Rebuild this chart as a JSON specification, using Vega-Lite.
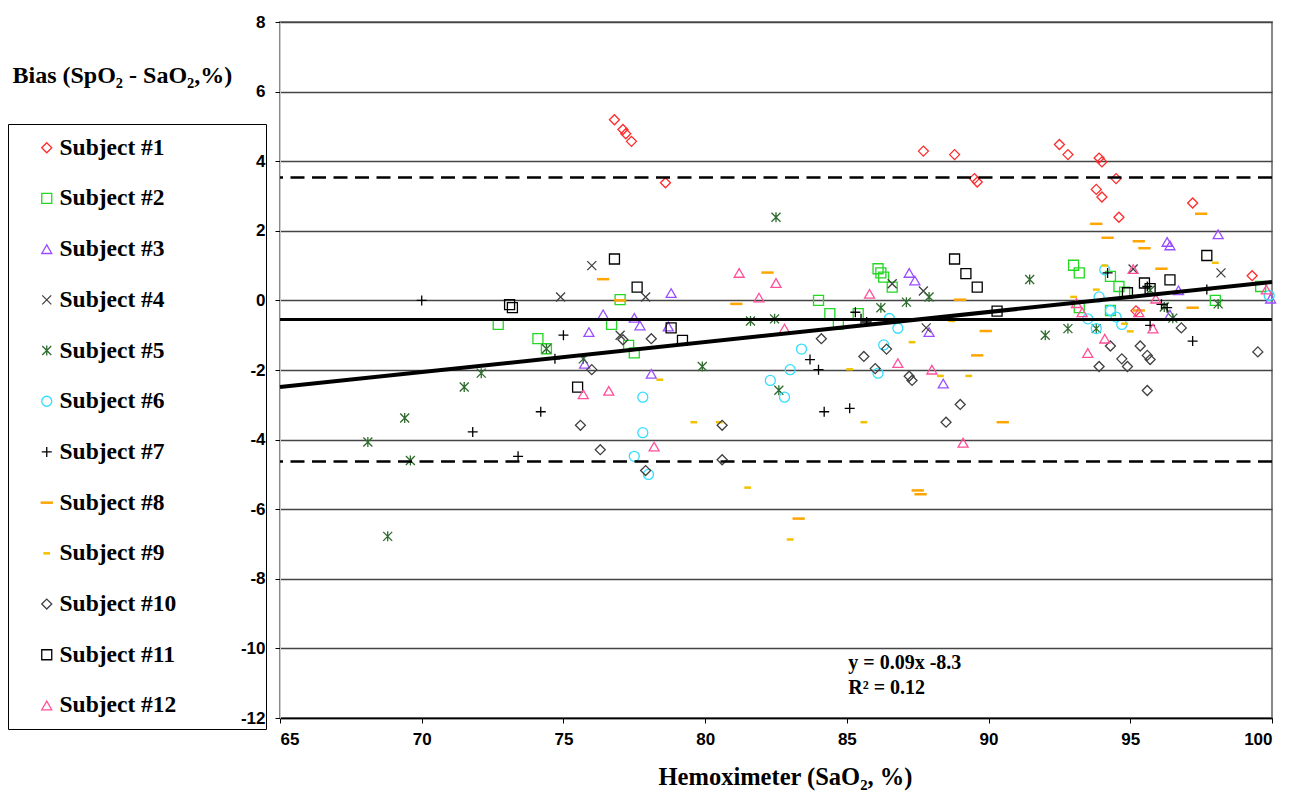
{
  "$schema": "https://vega.github.io/schema/vega-lite/v6.json",
  "autosize": {"type": "none"},
  "padding": {"left": 280, "top": 22, "right": 33, "bottom": 75},
  "width": 992,
  "height": 696,
  "background": "white",
  "config": {"view": {"stroke": "#888", "strokeWidth": 2}, "font": "Liberation Serif"},
  "datasets": {
    "pts": [
      {"subject":"Subject #1","sao2":76.8,"bias":5.19},{"subject":"Subject #1","sao2":77.1,"bias":4.91},{"subject":"Subject #1","sao2":77.2,"bias":4.79},{"subject":"Subject #1","sao2":77.4,"bias":4.57},{"subject":"Subject #1","sao2":78.6,"bias":3.38},{"subject":"Subject #1","sao2":87.7,"bias":4.29},{"subject":"Subject #1","sao2":88.8,"bias":4.19},{"subject":"Subject #1","sao2":89.5,"bias":3.5},{"subject":"Subject #1","sao2":89.6,"bias":3.4},{"subject":"Subject #1","sao2":92.5,"bias":4.48},{"subject":"Subject #1","sao2":92.8,"bias":4.19},{"subject":"Subject #1","sao2":93.9,"bias":4.09},{"subject":"Subject #1","sao2":94.0,"bias":3.98},{"subject":"Subject #1","sao2":94.5,"bias":3.5},{"subject":"Subject #1","sao2":93.8,"bias":3.19},{"subject":"Subject #1","sao2":94.0,"bias":2.97},{"subject":"Subject #1","sao2":94.6,"bias":2.39},{"subject":"Subject #1","sao2":97.2,"bias":2.8},{"subject":"Subject #1","sao2":99.3,"bias":0.71},{"subject":"Subject #1","sao2":95.2,"bias":-0.3},
      {"subject":"Subject #2","sao2":72.7,"bias":-0.69},{"subject":"Subject #2","sao2":74.1,"bias":-1.1},{"subject":"Subject #2","sao2":74.4,"bias":-1.39},{"subject":"Subject #2","sao2":77.0,"bias":0.02},{"subject":"Subject #2","sao2":76.7,"bias":-0.69},{"subject":"Subject #2","sao2":77.3,"bias":-1.29},{"subject":"Subject #2","sao2":77.5,"bias":-1.51},{"subject":"Subject #2","sao2":84.0,"bias":0.0},{"subject":"Subject #2","sao2":84.4,"bias":-0.38},{"subject":"Subject #2","sao2":84.7,"bias":-0.69},{"subject":"Subject #2","sao2":85.4,"bias":-0.38},{"subject":"Subject #2","sao2":86.1,"bias":0.91},{"subject":"Subject #2","sao2":86.2,"bias":0.79},{"subject":"Subject #2","sao2":86.3,"bias":0.67},{"subject":"Subject #2","sao2":86.6,"bias":0.38},{"subject":"Subject #2","sao2":93.0,"bias":1.01},{"subject":"Subject #2","sao2":93.2,"bias":0.79},{"subject":"Subject #2","sao2":94.3,"bias":0.69},{"subject":"Subject #2","sao2":94.6,"bias":0.4},{"subject":"Subject #2","sao2":94.8,"bias":0.24},{"subject":"Subject #2","sao2":98.0,"bias":0.0},{"subject":"Subject #2","sao2":94.3,"bias":-0.29},{"subject":"Subject #2","sao2":93.2,"bias":-0.21},{"subject":"Subject #2","sao2":99.6,"bias":0.4},
      {"subject":"Subject #3","sao2":78.8,"bias":0.21},{"subject":"Subject #3","sao2":76.4,"bias":-0.4},{"subject":"Subject #3","sao2":77.5,"bias":-0.5},{"subject":"Subject #3","sao2":77.7,"bias":-0.72},{"subject":"Subject #3","sao2":78.7,"bias":-0.75},{"subject":"Subject #3","sao2":75.9,"bias":-0.91},{"subject":"Subject #3","sao2":75.75,"bias":-1.82},{"subject":"Subject #3","sao2":78.1,"bias":-2.11},{"subject":"Subject #3","sao2":87.2,"bias":0.79},{"subject":"Subject #3","sao2":87.4,"bias":0.57},{"subject":"Subject #3","sao2":87.9,"bias":-0.91},{"subject":"Subject #3","sao2":88.4,"bias":-2.39},{"subject":"Subject #3","sao2":96.3,"bias":1.68},{"subject":"Subject #3","sao2":96.4,"bias":1.58},{"subject":"Subject #3","sao2":98.1,"bias":1.9},{"subject":"Subject #3","sao2":96.7,"bias":0.29},{"subject":"Subject #3","sao2":96.4,"bias":-0.41},{"subject":"Subject #3","sao2":99.95,"bias":0.05},
      {"subject":"Subject #4","sao2":76.0,"bias":1.0},{"subject":"Subject #4","sao2":74.9,"bias":0.1},{"subject":"Subject #4","sao2":77.9,"bias":0.1},{"subject":"Subject #4","sao2":77.0,"bias":-1.0},{"subject":"Subject #4","sao2":86.6,"bias":0.48},{"subject":"Subject #4","sao2":87.7,"bias":0.27},{"subject":"Subject #4","sao2":87.8,"bias":-0.79},{"subject":"Subject #4","sao2":98.2,"bias":0.79},{"subject":"Subject #4","sao2":95.1,"bias":0.9},
      {"subject":"Subject #5","sao2":72.1,"bias":-2.09},{"subject":"Subject #5","sao2":71.5,"bias":-2.49},{"subject":"Subject #5","sao2":74.4,"bias":-1.39},{"subject":"Subject #5","sao2":75.7,"bias":-1.68},{"subject":"Subject #5","sao2":79.9,"bias":-1.9},{"subject":"Subject #5","sao2":81.6,"bias":-0.59},{"subject":"Subject #5","sao2":82.45,"bias":-0.53},{"subject":"Subject #5","sao2":82.5,"bias":2.39},{"subject":"Subject #5","sao2":82.6,"bias":-2.58},{"subject":"Subject #5","sao2":86.2,"bias":-0.21},{"subject":"Subject #5","sao2":87.1,"bias":-0.05},{"subject":"Subject #5","sao2":87.9,"bias":0.1},{"subject":"Subject #5","sao2":91.45,"bias":0.6},{"subject":"Subject #5","sao2":92.0,"bias":-1.0},{"subject":"Subject #5","sao2":92.8,"bias":-0.81},{"subject":"Subject #5","sao2":93.8,"bias":-0.81},{"subject":"Subject #5","sao2":96.2,"bias":-0.19},{"subject":"Subject #5","sao2":96.5,"bias":-0.51},{"subject":"Subject #5","sao2":98.1,"bias":-0.1},{"subject":"Subject #5","sao2":95.7,"bias":0.29},{"subject":"Subject #5","sao2":69.4,"bias":-3.38},{"subject":"Subject #5","sao2":68.1,"bias":-4.07},{"subject":"Subject #5","sao2":69.6,"bias":-4.6},{"subject":"Subject #5","sao2":68.8,"bias":-6.78},
      {"subject":"Subject #6","sao2":77.8,"bias":-2.78},{"subject":"Subject #6","sao2":82.3,"bias":-2.3},{"subject":"Subject #6","sao2":86.5,"bias":-0.52},{"subject":"Subject #6","sao2":86.8,"bias":-0.8},{"subject":"Subject #6","sao2":83.4,"bias":-1.4},{"subject":"Subject #6","sao2":86.3,"bias":-1.28},{"subject":"Subject #6","sao2":83.0,"bias":-1.99},{"subject":"Subject #6","sao2":86.1,"bias":-2.09},{"subject":"Subject #6","sao2":82.8,"bias":-2.78},{"subject":"Subject #6","sao2":94.1,"bias":0.88},{"subject":"Subject #6","sao2":93.9,"bias":0.1},{"subject":"Subject #6","sao2":94.3,"bias":-0.29},{"subject":"Subject #6","sao2":94.5,"bias":-0.48},{"subject":"Subject #6","sao2":94.7,"bias":-0.69},{"subject":"Subject #6","sao2":93.5,"bias":-0.53},{"subject":"Subject #6","sao2":93.8,"bias":-0.81},{"subject":"Subject #6","sao2":99.9,"bias":0.14},{"subject":"Subject #6","sao2":77.8,"bias":-3.8},{"subject":"Subject #6","sao2":77.5,"bias":-4.48},{"subject":"Subject #6","sao2":78.0,"bias":-5.0},
      {"subject":"Subject #7","sao2":70.0,"bias":0.0},{"subject":"Subject #7","sao2":75.0,"bias":-1.0},{"subject":"Subject #7","sao2":74.7,"bias":-1.68},{"subject":"Subject #7","sao2":74.2,"bias":-3.2},{"subject":"Subject #7","sao2":85.3,"bias":-0.34},{"subject":"Subject #7","sao2":85.5,"bias":-0.53},{"subject":"Subject #7","sao2":85.7,"bias":-0.62},{"subject":"Subject #7","sao2":83.7,"bias":-1.7},{"subject":"Subject #7","sao2":84.0,"bias":-1.99},{"subject":"Subject #7","sao2":84.2,"bias":-3.2},{"subject":"Subject #7","sao2":85.1,"bias":-3.1},{"subject":"Subject #7","sao2":94.2,"bias":0.79},{"subject":"Subject #7","sao2":95.6,"bias":0.4},{"subject":"Subject #7","sao2":97.7,"bias":0.31},{"subject":"Subject #7","sao2":96.1,"bias":-0.11},{"subject":"Subject #7","sao2":96.3,"bias":-0.21},{"subject":"Subject #7","sao2":95.7,"bias":-0.72},{"subject":"Subject #7","sao2":97.2,"bias":-1.17},{"subject":"Subject #7","sao2":71.8,"bias":-3.78},{"subject":"Subject #7","sao2":73.4,"bias":-4.48},
      {"subject":"Subject #8","sao2":76.4,"bias":0.61},{"subject":"Subject #8","sao2":77.0,"bias":0.0},{"subject":"Subject #8","sao2":82.2,"bias":0.8},{"subject":"Subject #8","sao2":81.1,"bias":-0.1},{"subject":"Subject #8","sao2":89.0,"bias":0.02},{"subject":"Subject #8","sao2":89.9,"bias":-0.88},{"subject":"Subject #8","sao2":89.6,"bias":-1.58},{"subject":"Subject #8","sao2":93.8,"bias":2.2},{"subject":"Subject #8","sao2":94.2,"bias":1.8},{"subject":"Subject #8","sao2":95.3,"bias":1.7},{"subject":"Subject #8","sao2":95.5,"bias":1.5},{"subject":"Subject #8","sao2":97.5,"bias":2.49},{"subject":"Subject #8","sao2":96.1,"bias":0.91},{"subject":"Subject #8","sao2":97.2,"bias":-0.21},{"subject":"Subject #8","sao2":95.3,"bias":-0.29},{"subject":"Subject #8","sao2":90.5,"bias":-3.5},{"subject":"Subject #8","sao2":87.5,"bias":-5.46},{"subject":"Subject #8","sao2":87.6,"bias":-5.57},{"subject":"Subject #8","sao2":83.3,"bias":-6.27},
      {"subject":"Subject #9","sao2":78.4,"bias":-2.28},{"subject":"Subject #9","sao2":88.7,"bias":-0.59},{"subject":"Subject #9","sao2":87.3,"bias":-1.2},{"subject":"Subject #9","sao2":85.1,"bias":-1.98},{"subject":"Subject #9","sao2":88.3,"bias":-2.17},{"subject":"Subject #9","sao2":89.3,"bias":-2.17},{"subject":"Subject #9","sao2":94.1,"bias":1.0},{"subject":"Subject #9","sao2":93.8,"bias":0.31},{"subject":"Subject #9","sao2":93.0,"bias":0.1},{"subject":"Subject #9","sao2":94.8,"bias":-0.67},{"subject":"Subject #9","sao2":95.0,"bias":-0.89},{"subject":"Subject #9","sao2":99.6,"bias":0.5},{"subject":"Subject #9","sao2":98.0,"bias":1.08},{"subject":"Subject #9","sao2":79.6,"bias":-3.5},{"subject":"Subject #9","sao2":80.5,"bias":-3.5},{"subject":"Subject #9","sao2":81.5,"bias":-5.38},{"subject":"Subject #9","sao2":85.6,"bias":-3.5},{"subject":"Subject #9","sao2":83.0,"bias":-6.87},
      {"subject":"Subject #10","sao2":77.1,"bias":-1.13},{"subject":"Subject #10","sao2":78.1,"bias":-1.1},{"subject":"Subject #10","sao2":76.0,"bias":-1.99},{"subject":"Subject #10","sao2":84.1,"bias":-1.1},{"subject":"Subject #10","sao2":85.6,"bias":-1.61},{"subject":"Subject #10","sao2":86.4,"bias":-1.4},{"subject":"Subject #10","sao2":86.0,"bias":-1.96},{"subject":"Subject #10","sao2":87.2,"bias":-2.18},{"subject":"Subject #10","sao2":87.3,"bias":-2.3},{"subject":"Subject #10","sao2":89.0,"bias":-2.99},{"subject":"Subject #10","sao2":96.8,"bias":-0.79},{"subject":"Subject #10","sao2":94.3,"bias":-1.31},{"subject":"Subject #10","sao2":95.35,"bias":-1.31},{"subject":"Subject #10","sao2":93.9,"bias":-1.9},{"subject":"Subject #10","sao2":94.7,"bias":-1.68},{"subject":"Subject #10","sao2":94.9,"bias":-1.9},{"subject":"Subject #10","sao2":95.6,"bias":-1.58},{"subject":"Subject #10","sao2":95.7,"bias":-1.7},{"subject":"Subject #10","sao2":99.5,"bias":-1.48},{"subject":"Subject #10","sao2":95.6,"bias":-2.59},{"subject":"Subject #10","sao2":75.6,"bias":-3.59},{"subject":"Subject #10","sao2":76.3,"bias":-4.29},{"subject":"Subject #10","sao2":80.6,"bias":-3.59},{"subject":"Subject #10","sao2":80.6,"bias":-4.58},{"subject":"Subject #10","sao2":77.9,"bias":-4.89},{"subject":"Subject #10","sao2":88.5,"bias":-3.5},
      {"subject":"Subject #11","sao2":73.1,"bias":-0.12},{"subject":"Subject #11","sao2":73.2,"bias":-0.21},{"subject":"Subject #11","sao2":76.8,"bias":1.19},{"subject":"Subject #11","sao2":77.6,"bias":0.38},{"subject":"Subject #11","sao2":78.8,"bias":-0.79},{"subject":"Subject #11","sao2":79.2,"bias":-1.15},{"subject":"Subject #11","sao2":75.5,"bias":-2.49},{"subject":"Subject #11","sao2":88.8,"bias":1.19},{"subject":"Subject #11","sao2":89.2,"bias":0.77},{"subject":"Subject #11","sao2":89.6,"bias":0.38},{"subject":"Subject #11","sao2":90.3,"bias":-0.31},{"subject":"Subject #11","sao2":97.7,"bias":1.29},{"subject":"Subject #11","sao2":96.4,"bias":0.59},{"subject":"Subject #11","sao2":95.5,"bias":0.5},{"subject":"Subject #11","sao2":95.7,"bias":0.34},{"subject":"Subject #11","sao2":94.9,"bias":0.22},
      {"subject":"Subject #12","sao2":81.2,"bias":0.79},{"subject":"Subject #12","sao2":82.5,"bias":0.5},{"subject":"Subject #12","sao2":81.9,"bias":0.08},{"subject":"Subject #12","sao2":75.7,"bias":-2.7},{"subject":"Subject #12","sao2":76.6,"bias":-2.6},{"subject":"Subject #12","sao2":85.8,"bias":0.19},{"subject":"Subject #12","sao2":82.8,"bias":-0.81},{"subject":"Subject #12","sao2":86.8,"bias":-1.8},{"subject":"Subject #12","sao2":88.0,"bias":-1.99},{"subject":"Subject #12","sao2":93.1,"bias":-0.08},{"subject":"Subject #12","sao2":93.3,"bias":-0.34},{"subject":"Subject #12","sao2":95.3,"bias":-0.34},{"subject":"Subject #12","sao2":95.9,"bias":0.05},{"subject":"Subject #12","sao2":95.8,"bias":-0.81},{"subject":"Subject #12","sao2":94.1,"bias":-1.1},{"subject":"Subject #12","sao2":93.5,"bias":-1.51},{"subject":"Subject #12","sao2":99.8,"bias":0.31},{"subject":"Subject #12","sao2":78.2,"bias":-4.2},{"subject":"Subject #12","sao2":89.1,"bias":-4.09},{"subject":"Subject #12","sao2":95.1,"bias":0.9}
    ],
    "limits": [{"bias": 3.53}, {"bias": -4.63}],
    "mean": [{"bias": -0.55}],
    "fit": [{"sao2": 65, "bias": -2.49}, {"sao2": 100, "bias": 0.53}],
    "notes": [{"sao2": 85.05, "bias": -10.43, "label": "y = 0.09x  -8.3"}, {"sao2": 85.05, "bias": -11.15, "label": "R² = 0.12"}]
  },
  "layer": [
    {
      "data": {"name": "pts"},
      "mark": {"type": "point", "filled": false, "size": 100, "strokeWidth": 1.3, "opacity": 1},
      "encoding": {
        "x": {"field": "sao2", "type": "quantitative", "title": "Hemoximeter (SaO₂, %)",
          "scale": {"domain": [65, 100], "nice": false, "zero": false},
          "axis": {"values": [65, 70, 75, 80, 85, 90, 95, 100], "grid": false, "tickSize": 5, "tickColor": "#000", "domainColor": "#000", "domainWidth": 1.5,
            "labelFont": "Liberation Sans", "labelFontSize": 17, "labelFontWeight": "bold", "labelColor": "#000", "labelPadding": 8,
            "titleFont": "Liberation Serif", "titleFontSize": 24.5, "titleFontWeight": "bold", "titleColor": "#000",
            "titleX": 505, "titleY": 59, "titleBaseline": "middle", "titleAnchor": "middle"}},
        "y": {"field": "bias", "type": "quantitative", "title": "Bias (SpO₂ - SaO₂,%)",
          "scale": {"domain": [-12, 8], "nice": false, "zero": false},
          "axis": {"values": [-12, -10, -8, -6, -4, -2, 0, 2, 4, 6, 8], "grid": true, "gridColor": "#444", "gridWidth": 1.5,
            "tickSize": 5, "tickColor": "#000", "domainColor": "#ccc",
            "labelFont": "Liberation Sans", "labelFontSize": 17, "labelFontWeight": "bold", "labelColor": "#000", "labelPadding": 10,
            "labelExpr": "replace(datum.label, '\u2212', '-')",
            "titleFont": "Liberation Serif", "titleFontSize": 24, "titleFontWeight": "bold", "titleColor": "#000",
            "titleAngle": 0, "titleAlign": "left", "titleBaseline": "middle", "titleX": -268, "titleY": 53}},
        "color": {"field": "subject", "type": "nominal",
          "scale": {"domain": ["Subject #1","Subject #2","Subject #3","Subject #4","Subject #5","Subject #6","Subject #7","Subject #8","Subject #9","Subject #10","Subject #11","Subject #12"],
            "range": ["#FF2A2A","#22D822","#9A4DFF","#404040","#2E6B2E","#33DDFF","#000000","#FFA500","#F2C200","#404040","#000000","#FF4F9A"]},
          "legend": {"title": null, "orient": "none", "legendX": -272, "legendY": 102, "direction": "vertical",
            "strokeColor": "#000", "fillColor": "transparent", "padding": 12, "rowPadding": 25.7,
            "symbolOffset": 15, "symbolSize": 100, "symbolStrokeWidth": 1.3, "labelOffset": 1,
            "labelFont": "Liberation Serif", "labelFontSize": 23.5, "labelFontWeight": "bold", "labelColor": "#000", "labelLimit": 400,
            "labelExpr": "datum.label + '\u2009\u2800\u2800\u2800\u2800'"}},
        "shape": {"field": "subject", "type": "nominal",
          "scale": {"domain": ["Subject #1","Subject #2","Subject #3","Subject #4","Subject #5","Subject #6","Subject #7","Subject #8","Subject #9","Subject #10","Subject #11","Subject #12"],
            "range": ["diamond","square","triangle-up","M-0.9,-0.9L0.9,0.9M-0.9,0.9L0.9,-0.9","M-0.9,-0.9L0.9,0.9M-0.9,0.9L0.9,-0.9M0,-1L0,1","circle","M-1,0L1,0M0,-1L0,1","M-1.1,-0.12H1.1V0.12H-1.1Z","M-0.55,-0.12H0.55V0.12H-0.55Z","diamond","square","triangle-up"]},
          "legend": {"title": null, "orient": "none", "legendX": -272, "legendY": 102, "direction": "vertical",
            "strokeColor": "#000", "fillColor": "transparent", "padding": 12, "rowPadding": 25.7,
            "symbolOffset": 15, "symbolSize": 100, "symbolStrokeWidth": 1.3, "labelOffset": 1,
            "labelFont": "Liberation Serif", "labelFontSize": 23.5, "labelFontWeight": "bold", "labelColor": "#000", "labelLimit": 400,
            "labelExpr": "datum.label + '\u2009\u2800\u2800\u2800\u2800'"}}
      }
    },
    {
      "data": {"name": "limits"},
      "mark": {"type": "rule", "color": "#000", "strokeWidth": 2.6, "strokeDash": [14, 7.5]},
      "encoding": {"y": {"field": "bias", "type": "quantitative", "title": "Bias (SpO₂ - SaO₂,%)"}}
    },
    {
      "data": {"name": "mean"},
      "mark": {"type": "rule", "color": "#000", "strokeWidth": 3},
      "encoding": {"y": {"field": "bias", "type": "quantitative", "title": "Bias (SpO₂ - SaO₂,%)"}}
    },
    {
      "data": {"name": "fit"},
      "mark": {"type": "line", "color": "#000", "strokeWidth": 4},
      "encoding": {"x": {"field": "sao2", "type": "quantitative", "title": "Hemoximeter (SaO₂, %)"}, "y": {"field": "bias", "type": "quantitative", "title": "Bias (SpO₂ - SaO₂,%)"}}
    },
    {
      "data": {"name": "notes"},
      "mark": {"type": "text", "align": "left", "baseline": "middle", "font": "Liberation Serif", "fontSize": 20, "fontWeight": "bold", "color": "#000"},
      "encoding": {"x": {"field": "sao2", "type": "quantitative", "title": "Hemoximeter (SaO₂, %)"}, "y": {"field": "bias", "type": "quantitative", "title": "Bias (SpO₂ - SaO₂,%)"}, "text": {"field": "label"}}
    }
  ]
}
